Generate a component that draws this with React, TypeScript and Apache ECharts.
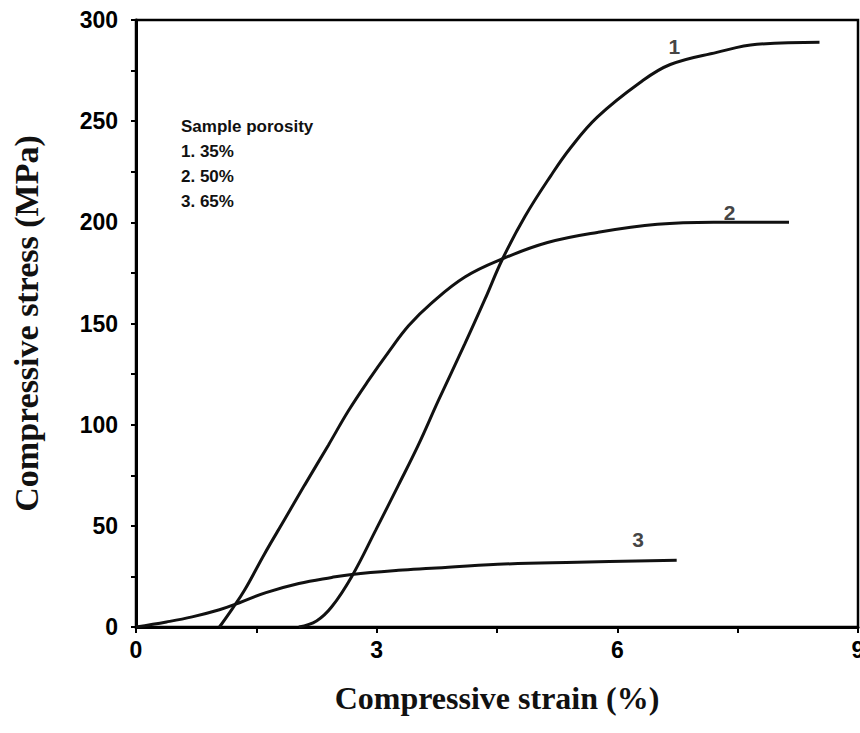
import React, { useEffect, useRef } from "react";
import * as echarts from "echarts";

// Curve 1: porosity 35%
const strain1 = [2.03, 2.25, 2.44, 2.69, 2.99, 3.27, 3.52, 3.77, 4.1, 4.35, 4.57, 4.85, 5.17, 5.42, 5.75, 6.28, 6.66, 7.24, 7.74, 8.52];
const stress1 = [0, 3, 10, 25, 48, 70, 90, 112, 140, 162, 182, 203, 223, 237, 252, 269, 278, 284, 288, 289];
// Curve 2: porosity 50%
const strain2 = [1.04, 1.2, 1.35, 1.6, 1.85, 2.1, 2.4, 2.65, 2.9, 3.15, 3.4, 3.68, 4.1, 4.57, 5.13, 5.75, 6.5, 7.2, 8.14];
const stress2 = [0, 9, 18, 36, 53, 70, 90, 107, 122, 136, 149, 160, 173, 182, 190, 195, 199, 200, 200];
// Curve 3: porosity 65%
const strain3 = [0, 0.38, 0.7, 1.04, 1.29, 1.62, 2.03, 2.44, 2.69, 3.27, 3.68, 4.51, 5.5, 6.74];
const stress3 = [0, 2.5, 5, 8.5, 12, 17, 21.5, 24.5, 26, 28, 29, 31, 32, 33];

// Curve number labels (data coordinates)
const curveLabels = ["1", "2", "3"];
const curveLabelX = [6.71, 7.4, 6.26];
const curveLabelY = [287, 205, 43];

const legendTitle = "Sample porosity";
const legendLines = ["1. 35%", "2. 50%", "3. 65%"];

const xTicks = [0, 3, 6, 9];
const yTicks = [0, 50, 100, 150, 200, 250, 300];

const zip = (xs: number[], ys: number[]) => xs.map((x, i) => [x, ys[i]]);

export default function App() {
  const ref = useRef<HTMLDivElement>(null);
  useEffect(() => {
    if (!ref.current) return;
    const chart = echarts.init(ref.current, null, { renderer: "svg" });
    const lineStyle = { color: "#111", width: 3 };
    const axisFont = { fontFamily: "Liberation Sans", fontWeight: "bold" as const, fontSize: 23, color: "#000" };
    chart.setOption({
      animation: false,
      backgroundColor: "#fff",
      grid: {
        left: 136,
        right: 2,
        top: 20,
        bottom: 106,
        show: true,
        borderColor: "#000",
        borderWidth: 2.5,
        outerBoundsMode: "none",
        containLabel: false,
      },
      xAxis: {
        type: "value",
        min: xTicks[0],
        max: xTicks[xTicks.length - 1],
        interval: 3,
        name: "Compressive strain (%)",
        nameLocation: "middle",
        nameGap: 55,
        nameTextStyle: { fontFamily: "Liberation Serif", fontWeight: "bold", fontSize: 32, color: "#111" },
        axisLine: { show: true, lineStyle: { color: "#000", width: 3 } },
        axisTick: { show: true, inside: false, length: 6, lineStyle: { color: "#000", width: 2 } },
        minorTick: { show: true, splitNumber: 2, length: 6, lineStyle: { color: "#000", width: 2 } },
        splitLine: { show: false },
        axisLabel: { ...axisFont, margin: 11 },
      },
      yAxis: {
        type: "value",
        min: yTicks[0],
        max: yTicks[yTicks.length - 1],
        interval: 50,
        name: "Compressive stress (MPa)",
        nameLocation: "middle",
        nameGap: 93,
        nameTextStyle: { fontFamily: "Liberation Serif", fontWeight: "bold", fontSize: 34, color: "#111" },
        axisLine: { show: true, lineStyle: { color: "#000", width: 3 } },
        axisTick: { show: true, inside: false, length: 5, lineStyle: { color: "#000", width: 2 } },
        minorTick: { show: true, splitNumber: 2, length: 5, lineStyle: { color: "#000", width: 2 } },
        splitLine: { show: false },
        axisLabel: { ...axisFont, margin: 18 },
      },
      graphic: [
        {
          type: "group",
          left: 181,
          top: 118,
          children: [legendTitle, ...legendLines].map((t, i) => ({
            type: "text",
            x: 0,
            y: i * 25,
            style: { text: t, fill: "#111", font: "bold 17px 'Liberation Sans'" },
          })),
        },
      ],
      series: [
        { type: "line", data: zip(strain1, stress1), smooth: 0.4, showSymbol: false, lineStyle, z: 3 },
        { type: "line", data: zip(strain2, stress2), smooth: 0.4, showSymbol: false, lineStyle, z: 3 },
        { type: "line", data: zip(strain3, stress3), smooth: 0.4, showSymbol: false, lineStyle, z: 3 },
        {
          type: "scatter",
          symbolSize: 0,
          data: curveLabels.map((l, i) => ({ value: [curveLabelX[i], curveLabelY[i]], name: l })),
          label: {
            show: true,
            position: "inside",
            formatter: (p: any) => p.name,
            fontFamily: "Liberation Sans",
            fontWeight: "bold",
            fontSize: 21,
            color: "#111",
          },
        },
      ],
    });
    return () => chart.dispose();
  }, []);
  return <div ref={ref} style={{ width: 860, height: 733, position: "absolute", left: 0, top: 0 }} />;
}
